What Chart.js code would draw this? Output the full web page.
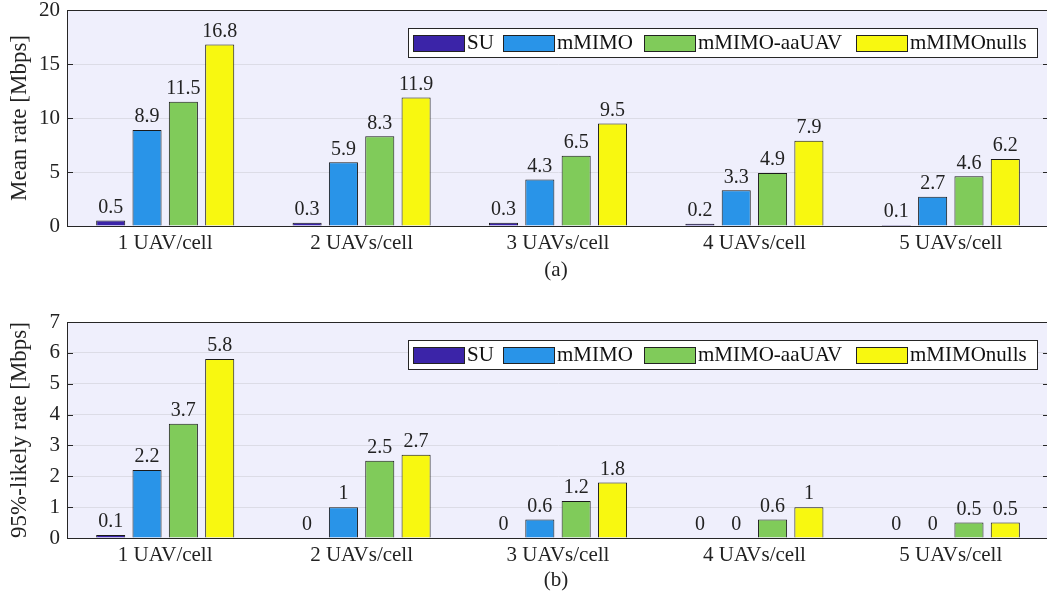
<!DOCTYPE html>
<html>
<head>
<meta charset="utf-8">
<script src="https://cdn.jsdelivr.net/npm/chart.js@4"></script>
<style>
  html, body { margin: 0; padding: 0; background: #fff; overflow: hidden; width: 1047px; height: 609px; }
  .box { position: absolute; left: 0; width: 1052px; }
  #boxA { top: 0; height: 300px; }
  #boxB { top: 312px; height: 297px; }
</style>
</head>
<body>
<div class="box" id="boxA"><canvas id="chartA"></canvas></div>
<div class="box" id="boxB"><canvas id="chartB"></canvas></div>
<script>
// categories and series
const categories = ['1 UAV/cell', '2 UAVs/cell', '3 UAVs/cell', '4 UAVs/cell', '5 UAVs/cell'];
const seriesNames = ['SU', 'mMIMO', 'mMIMO-aaUAV', 'mMIMOnulls'];
const seriesColors = ['#3b24a8', '#2994e8', '#80cb5a', '#f8f810'];

// (a) mean rate
const meanSU = [0.5, 0.3, 0.3, 0.2, 0.1];
const meanMIMO = [8.9, 5.9, 4.3, 3.3, 2.7];
const meanAaUAV = [11.5, 8.3, 6.5, 4.9, 4.6];
const meanNulls = [16.8, 11.9, 9.5, 7.9, 6.2];
const meanTicks = [0, 5, 10, 15, 20];

// (b) 95%-likely rate
const p95SU = [0.1, 0, 0, 0, 0];
const p95MIMO = [2.2, 1, 0.6, 0, 0];
const p95AaUAV = [3.7, 2.5, 1.2, 0.6, 0.5];
const p95Nulls = [5.8, 2.7, 1.8, 1, 0.5];
const p95Ticks = [0, 1, 2, 3, 4, 5, 6, 7];

const FONT = "'Liberation Serif', serif";

// plot background, box, inward ticks, value labels, legend, subcaption
const decor = {
    id: 'decor',
    beforeDraw(chart) {
        const a = chart.chartArea, ctx = chart.ctx;
        ctx.save();
        ctx.fillStyle = '#efeffc';
        ctx.fillRect(a.left, a.top, a.right - a.left, a.bottom - a.top);
        ctx.restore();
    },
    afterDatasetsDraw(chart) {
        const a = chart.chartArea, ctx = chart.ctx;
        const y = chart.scales.y;
        ctx.save();
        // box
        ctx.strokeStyle = '#262626';
        ctx.lineWidth = 1;
        ctx.strokeRect(a.left + 0.5, a.top + 0.5, a.right - a.left - 1, a.bottom - a.top);
        // inward ticks on both sides
        y.ticks.forEach(t => {
            const py = Math.round(y.getPixelForValue(t.value)) + 0.5;
            ctx.beginPath();
            ctx.moveTo(a.left, py); ctx.lineTo(a.left + 6, py);
            ctx.moveTo(a.right, py); ctx.lineTo(a.right - 6, py);
            ctx.stroke();
        });
        // value labels
        ctx.fillStyle = '#222';
        ctx.font = '20px ' + FONT;
        ctx.textAlign = 'center';
        ctx.textBaseline = 'bottom';
        chart.data.datasets.forEach((ds, i) => {
            chart.getDatasetMeta(i).data.forEach((bar, j) => {
                const v = ds.data[j];
                ctx.fillText(String(Number(v.toFixed(1))), bar.x, bar.y - 3);
            });
        });
        // legend
        const lx = 408, ly = 28, lw = 629, lh = 29;
        ctx.fillStyle = '#fff';
        ctx.fillRect(lx, ly, lw, lh);
        ctx.strokeStyle = '#262626';
        ctx.strokeRect(lx + 0.5, ly + 0.5, lw, lh);
        const itemX = [413, 503, 644, 856];
        ctx.font = '21px ' + FONT;
        ctx.textAlign = 'left';
        ctx.textBaseline = 'middle';
        chart.data.datasets.forEach((ds, i) => {
            ctx.fillStyle = ds.backgroundColor;
            ctx.fillRect(itemX[i], ly + 7, 51, 16);
            ctx.strokeStyle = '#222';
            ctx.strokeRect(itemX[i] + 0.5, ly + 7.5, 51, 16);
            ctx.fillStyle = '#111';
            ctx.fillText(ds.label, itemX[i] + 54, ly + 15);
        });
        // caption
        ctx.textAlign = 'center';
        ctx.font = '21px ' + FONT;
        ctx.fillStyle = '#222';
        ctx.fillText(chart.options.plugins.decor.caption, 556, chart.options.plugins.decor.captionY);
        ctx.restore();
    }
};

function makeChart(id, data, ticks, max, yTitle, caption, captionY, top, xH) {
    const sets = [data[0], data[1], data[2], data[3]].map((d, i) => ({
        label: seriesNames[i],
        data: d,
        backgroundColor: seriesColors[i],
        borderColor: '#1a1a1a',
        borderWidth: 1,
        barPercentage: 0.8,
        categoryPercentage: 0.74
    }));
    return new Chart(document.getElementById(id), {
        type: 'bar',
        data: { labels: categories, datasets: sets },
        plugins: [decor],
        options: {
            responsive: true,
            maintainAspectRatio: false,
            animation: false,
            layout: { padding: { left: 0, right: 3, top: top, bottom: 0 } },
            plugins: {
                legend: { display: false },
                tooltip: { enabled: false },
                decor: { caption: caption, captionY: captionY }
            },
            scales: {
                x: {
                    grid: { display: false, drawTicks: false },
                    border: { color: '#262626' },
                    ticks: { color: '#222', font: { family: FONT, size: 21 }, padding: 5 },
                    afterFit: s => { s.height = xH; s.paddingLeft = 0; s.paddingRight = 0; }
                },
                y: {
                    min: 0, max: max,
                    afterBuildTicks: s => { s.ticks = ticks.map(v => ({ value: v })); },
                    grid: { color: '#dcdce6', drawTicks: false },
                    border: { color: '#262626' },
                    ticks: { color: '#222', font: { family: FONT, size: 21 }, padding: 7 },
                    title: { display: true, text: yTitle, color: '#222', font: { family: FONT, size: 23 }, padding: { top: 6, bottom: 0 } },
                    afterFit: s => { s.width = 67; s.paddingTop = 0; s.paddingBottom = 0; }
                }
            }
        }
    });
}

makeChart('chartA', [meanSU, meanMIMO, meanAaUAV, meanNulls], meanTicks, 20,
    'Mean rate [Mbps]', '(a)', 270, 10, 74);
makeChart('chartB', [p95SU, p95MIMO, p95AaUAV, p95Nulls], p95Ticks, 7,
    '95%-likely rate [Mbps]', '(b)', 268, 10, 71);
</script>
</body>
</html>
